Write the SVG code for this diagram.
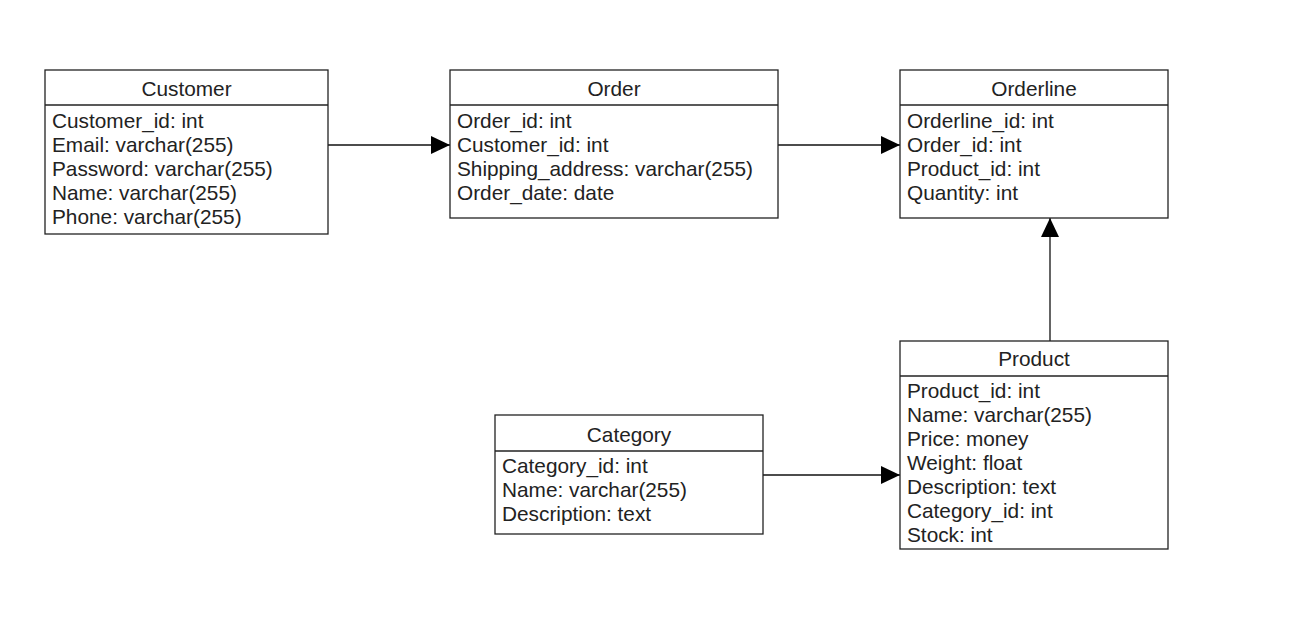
<svg xmlns="http://www.w3.org/2000/svg" width="1299" height="639" viewBox="0 0 1299 639">
<style>
.box{fill:#fff;stroke:#222;stroke-width:1.3}
.div{stroke:#222;stroke-width:1.3}
.t{font-family:"Liberation Sans",Arial,sans-serif;font-size:20.8px;fill:#222}
.h{text-anchor:middle}
.c{stroke:#111;stroke-width:1.3;fill:none}
</style>
<defs>
<marker id="arr" markerUnits="userSpaceOnUse" markerWidth="20" markerHeight="20" refX="19" refY="9" orient="auto">
<path d="M0,0 L19,9 L0,18 Z" fill="#000"/>
</marker>
</defs>
<rect width="1299" height="639" fill="#fff"/>
<g id="connectors">
<path class="c" d="M328,145 H450" marker-end="url(#arr)"/>
<path class="c" d="M778,145 H900" marker-end="url(#arr)"/>
<path class="c" d="M1050,341 V218" marker-end="url(#arr)"/>
<path class="c" d="M763,475 H900" marker-end="url(#arr)"/>
</g>
<g id="customer">
<rect class="box" x="45" y="70" width="283" height="164"/>
<line class="div" x1="45" y1="105" x2="328" y2="105"/>
<text class="t h" x="186.5" y="96">Customer</text>
<text class="t" x="52" y="128">Customer_id: int</text>
<text class="t" x="52" y="152">Email: varchar(255)</text>
<text class="t" x="52" y="176">Password: varchar(255)</text>
<text class="t" x="52" y="200">Name: varchar(255)</text>
<text class="t" x="52" y="224">Phone: varchar(255)</text>
</g>
<g id="order">
<rect class="box" x="450" y="70" width="328" height="148"/>
<line class="div" x1="450" y1="105" x2="778" y2="105"/>
<text class="t h" x="614" y="96">Order</text>
<text class="t" x="457" y="128">Order_id: int</text>
<text class="t" x="457" y="152">Customer_id: int</text>
<text class="t" x="457" y="176">Shipping_address: varchar(255)</text>
<text class="t" x="457" y="200">Order_date: date</text>
</g>
<g id="orderline">
<rect class="box" x="900" y="70" width="268" height="148"/>
<line class="div" x1="900" y1="105" x2="1168" y2="105"/>
<text class="t h" x="1034" y="96">Orderline</text>
<text class="t" x="907" y="128">Orderline_id: int</text>
<text class="t" x="907" y="152">Order_id: int</text>
<text class="t" x="907" y="176">Product_id: int</text>
<text class="t" x="907" y="200">Quantity: int</text>
</g>
<g id="product">
<rect class="box" x="900" y="341" width="268" height="208"/>
<line class="div" x1="900" y1="376" x2="1168" y2="376"/>
<text class="t h" x="1034" y="366">Product</text>
<text class="t" x="907" y="398">Product_id: int</text>
<text class="t" x="907" y="422">Name: varchar(255)</text>
<text class="t" x="907" y="446">Price: money</text>
<text class="t" x="907" y="470">Weight: float</text>
<text class="t" x="907" y="494">Description: text</text>
<text class="t" x="907" y="518">Category_id: int</text>
<text class="t" x="907" y="542">Stock: int</text>
</g>
<g id="category">
<rect class="box" x="495" y="415" width="268" height="119"/>
<line class="div" x1="495" y1="451" x2="763" y2="451"/>
<text class="t h" x="629" y="442">Category</text>
<text class="t" x="502" y="473">Category_id: int</text>
<text class="t" x="502" y="497">Name: varchar(255)</text>
<text class="t" x="502" y="521">Description: text</text>
</g>
</svg>
